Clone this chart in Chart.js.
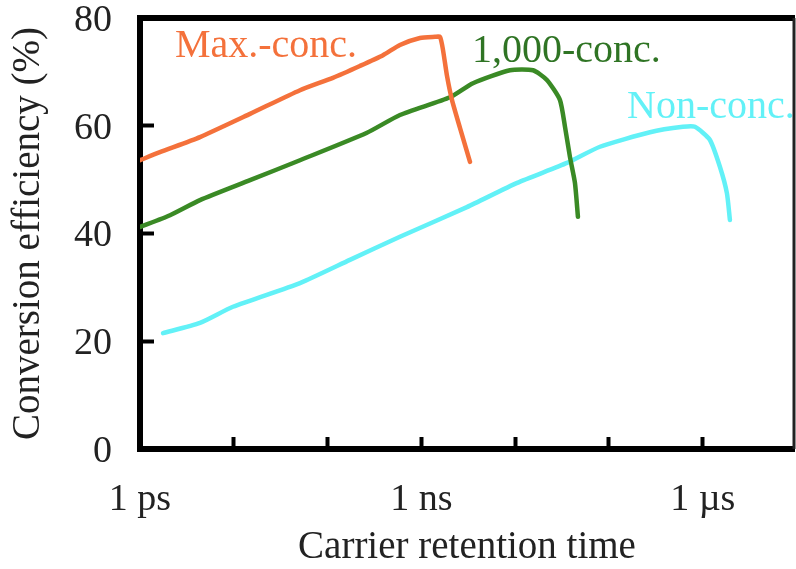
<!DOCTYPE html>
<html>
<head>
<meta charset="utf-8">
<script src="https://cdn.jsdelivr.net/npm/chart.js@4"></script>
<style>
  body { margin: 0; background: #fff; }
</style>
</head>
<body>
<canvas id="line-chart" width="796" height="569"></canvas>
<script>
// carrier retention time in seconds, conversion efficiency in %
const maxTimes = [1e-12, 1.63e-12, 4.36e-12, 1.49e-11, 5.08e-11, 1.14e-10, 2.21e-10, 3.90e-10, 5.91e-10, 9.66e-10, 1.40e-9, 1.58e-9, 1.70e-9, 1.87e-9, 2.12e-9, 2.58e-9, 3.30e-9];
const maxEff   = [53.6, 55.1, 57.9, 62.2, 66.6, 68.9, 71.1, 73.1, 75.0, 76.3, 76.5, 76.5, 74.1, 69.4, 64.8, 59.6, 53.3];

const kTimes = [1e-12, 2.09e-12, 4.36e-12, 1.49e-11, 5.08e-11, 2.63e-10, 5.91e-10, 2.02e-9, 3.55e-9, 8.80e-9, 1.55e-8, 2.18e-8, 3.00e-8, 3.40e-8, 3.84e-8, 4.34e-8, 4.67e-8];
const kEff   = [41.2, 43.4, 46.2, 49.9, 53.6, 58.7, 62.0, 65.3, 67.9, 70.3, 70.3, 68.5, 64.8, 59.8, 54.2, 49.4, 43.1];

const nonTimes = [1.76e-12, 4.36e-12, 9.80e-12, 5.08e-11, 1.73e-10, 5.91e-10, 3.06e-9, 1.05e-8, 3.57e-8, 8.02e-8, 2.74e-7, 6.15e-7, 8.26e-7, 1.19e-6, 1.53e-6, 1.81e-6, 1.95e-6];
const nonEff   = [21.5, 23.4, 26.4, 30.8, 35.1, 39.4, 44.9, 49.4, 53.1, 56.1, 58.8, 59.8, 59.8, 57.4, 52.3, 47.5, 42.5];

const xTickValues = [1e-12, 1e-11, 1e-10, 1e-9, 1e-8, 1e-7, 1e-6];
const xTickLabels = {'-12': '1 ps', '-9': '1 ns', '-6': '1 µs'};
const yTicks = [0, 20, 40, 60, 80];

const labelTexts  = ['Max.-conc.', '1,000-conc.', 'Non-conc.'];
const labelTimes  = [2.36e-12, 3.46e-9, 1.56e-7];
const labelEff    = [72.8, 71.8, 61.4];
const colors = ['#f4713b', '#3a8a25', '#62f1f7'];
const labelColors = ['#f4713b', '#2f7424', '#62f1f7'];

const serif = "'Liberation Serif', 'Times New Roman', serif";

function points(times, values) {
   return times.map((t, i) => ({x: t, y: values[i]}));
}

const frame = {
   id: 'frame',
   afterDraw(chart) {
      const ctx = chart.ctx;
      const a = chart.chartArea;
      ctx.save();
      ctx.strokeStyle = '#000';
      ctx.lineWidth = 6;
      ctx.beginPath();
      ctx.moveTo(a.left - 3, a.top);
      ctx.lineTo(a.right + 1, a.top);
      ctx.stroke();
      ctx.lineWidth = 3;
      ctx.strokeStyle = '#222';
      ctx.beginPath();
      ctx.moveTo(a.right, a.top);
      ctx.lineTo(a.right, a.bottom);
      ctx.stroke();
      ctx.restore();
   }
};

const seriesLabels = {
   id: 'seriesLabels',
   afterDatasetsDraw(chart) {
      const ctx = chart.ctx;
      const xs = chart.scales.x, ys = chart.scales.y;
      ctx.save();
      ctx.font = '40px ' + serif;
      ctx.textAlign = 'left';
      ctx.textBaseline = 'alphabetic';
      labelTexts.forEach((txt, i) => {
         ctx.fillStyle = labelColors[i];
         ctx.fillText(txt, xs.getPixelForValue(labelTimes[i]), ys.getPixelForValue(labelEff[i]));
      });
      ctx.restore();
   }
};

new Chart(document.getElementById('line-chart'), {
   type: 'line',
   data: {
      datasets: [
         {label: labelTexts[0], data: points(maxTimes, maxEff), borderColor: colors[0]},
         {label: labelTexts[1], data: points(kTimes, kEff), borderColor: colors[1]},
         {label: labelTexts[2], data: points(nonTimes, nonEff), borderColor: colors[2]}
      ]
   },
   options: {
      responsive: false,
      animation: false,
      layout: {padding: {left: 0, right: 2, top: 18, bottom: 0}},
      elements: {
         line: {borderWidth: 4.5, tension: 0.2, borderCapStyle: 'round', borderJoinStyle: 'round'},
         point: {radius: 0}
      },
      plugins: {
         legend: {display: false},
         tooltip: {enabled: false}
      },
      scales: {
         x: {
            type: 'logarithmic',
            min: 1e-12,
            max: 9.4e-6,
            afterFit: scale => {
               scale.height = 120;
               scale.paddingLeft = 0;
               scale.paddingRight = 0;
            },
            afterBuildTicks: scale => {
               scale.ticks = xTickValues.map(v => ({value: v}));
            },
            border: {color: '#000', width: 6},
            grid: {drawOnChartArea: false, tickLength: -12, tickWidth: 4, tickColor: '#000'},
            ticks: {
               autoSkip: false,
               maxRotation: 0,
               padding: 40,
               color: '#222',
               font: {family: serif, size: 38},
               callback: v => xTickLabels[Math.round(Math.log10(v))] || ''
            },
            title: {
               display: true,
               text: 'Carrier retention time',
               color: '#222',
               font: {family: serif, size: 39, lineHeight: 1},
               padding: {top: 0, bottom: 2}
            }
         },
         y: {
            min: 0,
            max: 80,
            afterFit: scale => {
               scale.width = 140;
               scale.paddingTop = 0;
               scale.paddingBottom = 0;
            },
            afterBuildTicks: scale => {
               scale.ticks = yTicks.map(v => ({value: v}));
            },
            border: {color: '#000', width: 6},
            grid: {drawOnChartArea: false, tickLength: -14, tickWidth: 4, tickColor: '#000'},
            ticks: {
               padding: 42,
               labelOffset: 3,
               color: '#222',
               font: {family: serif, size: 38}
            },
            title: {
               display: true,
               text: 'Conversion efficiency (%)',
               color: '#222',
               font: {family: serif, size: 39, lineHeight: 1},
               padding: {top: 9, bottom: 0}
            }
         }
      }
   },
   plugins: [frame, seriesLabels]
});
</script>
</body>
</html>
